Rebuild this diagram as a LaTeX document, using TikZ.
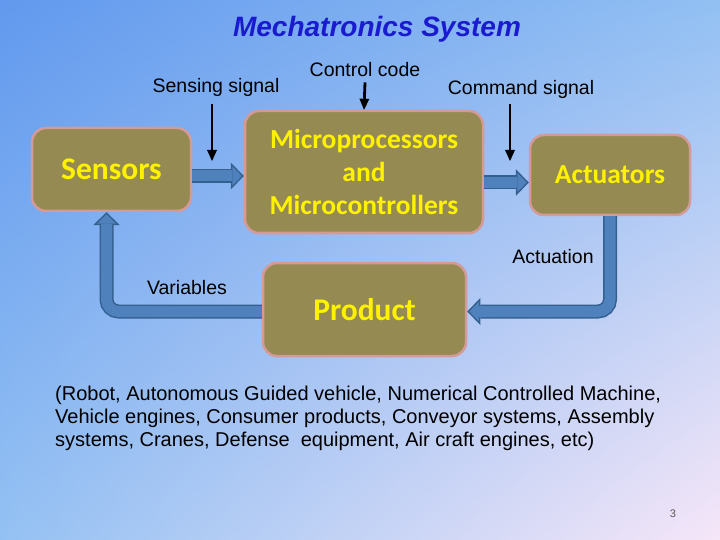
\documentclass[tikz,border=0pt]{standalone}
\usepackage{fontspec}
\setmainfont{Liberation Sans}
\newfontfamily\calfont{Carlito}
\usepackage{tikz}
\usetikzlibrary{arrows.meta,calc,shadings}
\definecolor{bgtl}{HTML}{6299EE}
\definecolor{bgtr}{HTML}{92C0F3}
\definecolor{bgbl}{HTML}{94C1F3}
\definecolor{bgbr}{HTML}{F6E6F8}
\definecolor{boxfill}{HTML}{948A52}
\definecolor{boxedge}{HTML}{D39A98}
\definecolor{arrowfill}{HTML}{4F81BD}
\definecolor{arrowedge}{HTML}{34608F}
\definecolor{titleblue}{HTML}{1A1ACF}

\begin{document}
\begin{tikzpicture}[x=1pt,y=-1pt,
  box/.style={draw=boxedge,line width=2.5pt,fill=boxfill,rounded corners=14pt,
    text=yellow,align=center,inner sep=0pt},
  lbl/.style={font=\fontsize{19.5}{22}\selectfont,inner sep=0pt},
  sigarrow/.style={line width=2.8pt,-{Triangle[length=11pt,width=10pt,line width=0pt]}},
  flowout/.style={line width=14pt,draw=arrowedge,rounded corners=12pt,
    -{Triangle[length=13pt,width=27pt,line width=0pt]}},
  flowin/.style={line width=11pt,draw=arrowfill,rounded corners=12pt,shorten >=2.1pt,
    -{Triangle[length=9.4pt,width=19.5pt,line width=0pt]}}]
  % background, pixel grid 720 x 540 (y down)
  \shade[upper left=bgtl,upper right=bgtr,lower left=bgbl,lower right=bgbr]
    (0,0) rectangle (720,540);
  \useasboundingbox (0,0) rectangle (720,540);
  \node[font=\bfseries\itshape\fontsize{28}{32}\selectfont,text=titleblue] (title) at (377,29) {Mechatronics System};
  % blocks
  \node[box,minimum width=159pt,minimum height=83pt,font=\calfont\bfseries\fontsize{31.5}{36}\selectfont] (sens) at (111.5,169.5) {Sensors};
  \node[box,minimum width=238pt,minimum height=122pt,font=\calfont\bfseries\fontsize{27.5}{33}\selectfont] (micro) at (364,172) {Microprocessors\\and\\Microcontrollers};
  \node[box,minimum width=160pt,minimum height=80pt,font=\calfont\bfseries\fontsize{27.5}{33}\selectfont] (act) at (610,175) {Actuators};
  \node[box,minimum width=203pt,minimum height=93pt,font=\calfont\bfseries\fontsize{31.5}{36}\selectfont] (prod) at (364.5,309.5) {Product};
  % block arrows: edge pass, then fill pass
  \foreach \s in {flowout,flowin} {
    \draw[\s] ($(sens.east)+(0,6.5)$) -- ($(micro.west)+(0,4)$);
    \draw[\s] ($(micro.east)+(0,10.5)$) -- ($(act.west)+(0,7.5)$);
    \draw[\s] (act.south) |- ($(prod.east)+(0,2)$);
    \draw[\s] ($(prod.west)+(0,2)$) -| ($(sens.south)+(-5,0)$);
  }
  % signal labels
  \node[lbl] (sense) at (216,87) {Sensing signal};
  \node[lbl] (ctl) at (365,70) {Control code};
  \node[lbl] (cmd) at (521,89) {Command signal};
  \node[lbl] (actn) at (553,257) {Actuation};
  \node[lbl] (vars) at (187,288) {Variables};
  \coordinate (sensetip) at (212,161);
  \coordinate (cmdtip) at (510,161);
  \draw[sigarrow] ($(sense.south)+(-4,8)$) -- (sensetip);
  \draw[sigarrow] ($(ctl.south)+(0,5)$) -- (micro.north);
  \draw[sigarrow] ($(cmd.south)+(-11,6)$) -- (cmdtip);
  % examples
  \node[anchor=west,align=left,inner sep=0pt,font=\fontsize{20}{23}\selectfont] (uses) at (55,418)
    {(Robot, Autonomous Guided vehicle, Numerical Controlled Machine,\\
     Vehicle engines, Consumer products, Conveyor systems, Assembly\\
     systems, Cranes, Defense~ equipment, Air craft engines, etc)};
  \node[text=gray!70!black,font=\fontsize{11}{13}\selectfont] (pnum) at (673,514) {3};
\end{tikzpicture}
\end{document}
